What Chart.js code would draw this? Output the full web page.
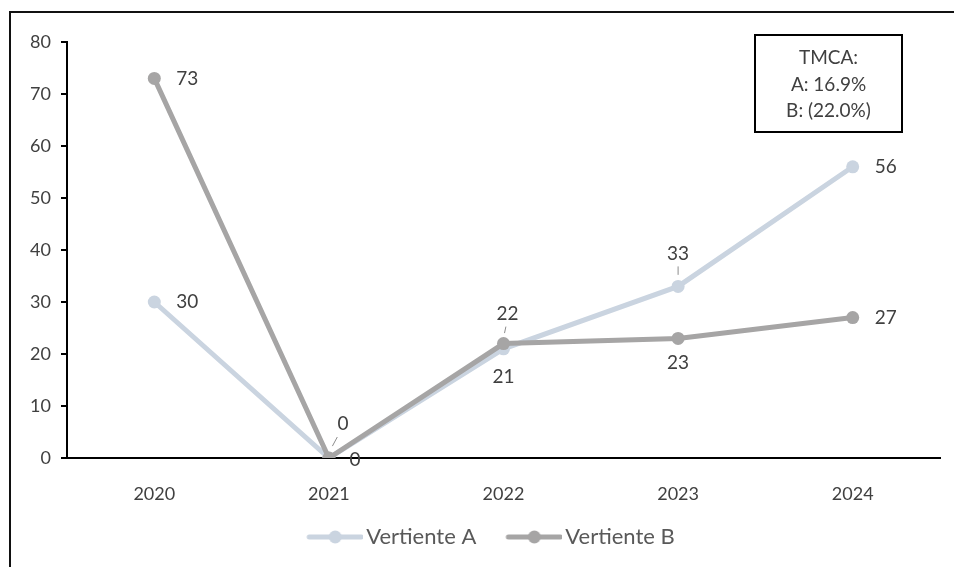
<!DOCTYPE html>
<html lang="es">
<head>
<meta charset="UTF-8">
<title>Vertientes</title>
<script src="https://cdn.jsdelivr.net/npm/chart.js"></script>
<style>
  body { margin: 0; background: #fff; }
  canvas { display: block; }
</style>
</head>
<body>
<canvas id="grafico" width="954" height="567"></canvas>
<script>
// datos
const anios = ['2020', '2021', '2022', '2023', '2024']
const vertienteA = [30, 0, 21, 33, 56]
const vertienteB = [73, 0, 22, 23, 27]
const tmca = ['TMCA:', 'A: 16.9%', 'B: (22.0%)']

// donde va cada etiqueta: [dx, dy, alineacion, linea guia]
const posA = [[22, 0, 'left', false], [14, -34, 'center', true], [0, 28, 'center', false], [0, -33, 'center', true], [22, 0, 'left', false]]
const posB = [[22, 0, 'left', false], [26, 2, 'center', false], [4, -30, 'center', true], [0, 24, 'center', false], [22, 0, 'left', false]]

const colorA = '#CAD4E0'
const colorB = '#A6A5A5'
const fuente = 'Lato, "Liberation Sans", sans-serif'

// marca de la leyenda: linea con circulo, con un margen vacio a la izquierda
function marcaLeyenda(color){
  const c = document.createElement('canvas')
  c.width = 84; c.height = 14
  const g = c.getContext('2d')
  g.strokeStyle = color; g.lineWidth = 5; g.lineCap = 'round'
  g.beginPath(); g.moveTo(30, 7); g.lineTo(82, 7); g.stroke()
  g.fillStyle = color
  g.beginPath(); g.arc(56, 7, 6.5, 0, Math.PI * 2); g.fill()
  return c
}

const marco = {
  id: 'marco',
  afterLayout(chart){
    chart.legend.left += 11
    chart.legend.right += 11
  },
  beforeDraw(chart){
    const g = chart.ctx
    g.save()
    g.strokeStyle = '#111'
    g.lineWidth = 2
    g.beginPath()
    g.moveTo(10, 600); g.lineTo(10, 12); g.lineTo(1000, 12)
    g.stroke()
    g.restore()
  }
}

const etiquetas = {
  id: 'etiquetas',
  afterDatasetsDraw(chart){
    const g = chart.ctx
    g.save()
    g.font = '19px ' + fuente
    g.fillStyle = '#404040'
    g.textBaseline = 'middle'
    const todas = [posA, posB]
    chart.data.datasets.forEach((ds, i) => {
      const meta = chart.getDatasetMeta(i)
      meta.data.forEach((p, j) => {
        const [dx, dy, al, guia] = todas[i][j]
        g.textAlign = al
        g.fillText(String(ds.data[j]), p.x + dx, p.y + dy)
        if (guia) {
          g.strokeStyle = '#8c8c8c'
          g.lineWidth = 1
          g.beginPath()
          const sy = dy < 0 ? 1 : -1
          g.moveTo(p.x + dx * 0.6, p.y + dy + 13 * sy)
          g.lineTo(p.x + dx * 0.25, p.y + dy * 0.35)
          g.stroke()
        }
      })
    })
    // recuadro TMCA
    g.fillStyle = '#fff'
    g.fillRect(755, 35, 147, 97)
    g.strokeStyle = '#000'
    g.lineWidth = 2
    g.strokeRect(755, 35, 147, 97)
    g.fillStyle = '#404040'
    g.textAlign = 'center'
    g.font = '19px ' + fuente
    tmca.forEach((t, k) => g.fillText(t, 828.5, 58 + k * 26.5))
    g.restore()
  }
}

new Chart(document.getElementById('grafico'), {
  type: 'line',
  data: {
    labels: anios,
    datasets: [
      {
        label: 'Vertiente A',
        data: vertienteA,
        borderColor: colorA,
        backgroundColor: colorA,
        borderWidth: 5,
        pointRadius: 6.5,
        pointBackgroundColor: colorA,
        pointBorderWidth: 0,
        tension: 0,
        order: 1
      },
      {
        label: 'Vertiente B',
        data: vertienteB,
        borderColor: colorB,
        backgroundColor: colorB,
        borderWidth: 5,
        pointRadius: 6.5,
        pointBackgroundColor: colorB,
        pointBorderWidth: 0,
        tension: 0,
        order: 0
      }
    ]
  },
  options: {
    responsive: false,
    animation: false,
    layout: { padding: { left: 0, top: 42, right: 14, bottom: 9 } },
    plugins: {
      tooltip: { enabled: false },
      legend: {
        position: 'bottom',
        labels: {
          color: '#595959',
          font: { size: 22, family: fuente },
          usePointStyle: true,
          pointStyleWidth: 68,
          boxHeight: 14,
          padding: 10,
          sort: (a, b) => a.datasetIndex - b.datasetIndex,
          generateLabels(chart){
            return chart.data.datasets.map((ds, i) => ({
              text: ds.label,
              fontColor: '#595959',
              pointStyle: marcaLeyenda(ds.borderColor),
              strokeStyle: 'transparent',
              fillStyle: 'transparent',
              lineWidth: 0,
              datasetIndex: i
            }))
          }
        }
      }
    },
    scales: {
      x: {
        offset: true,
        grid: { display: false },
        border: { color: '#000', width: 2 },
        ticks: { color: '#404040', font: { size: 18, family: fuente }, padding: 17 },
        afterFit(s){ s.height = 58 }
      },
      y: {
        min: 0,
        max: 80,
        ticks: { stepSize: 10, color: '#404040', font: { size: 18, family: fuente }, padding: 10 },
        grid: { drawOnChartArea: false, drawTicks: true, tickLength: 6, color: '#000', lineWidth: 2 },
        border: { color: '#000', width: 2 },
        afterFit(s){ s.width = 67 }
      }
    }
  },
  plugins: [marco, etiquetas]
})
</script>
</body>
</html>
